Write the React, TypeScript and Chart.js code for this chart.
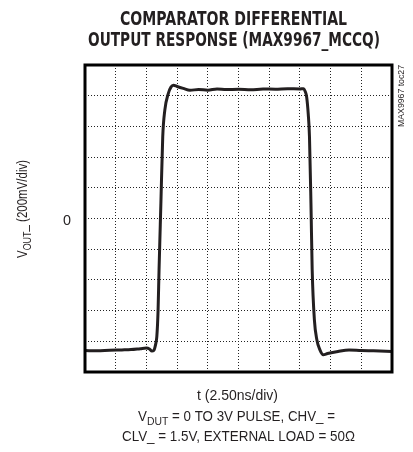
import React, { useEffect, useRef } from "react";
import { Chart, registerables } from "chart.js";

Chart.register(...registerables);

// time in ns (2.50 ns/div), output in mV (200 mV/div)
const timeNs = [0, 1.0, 2.0, 3.0, 3.75, 4.5, 5.0, 5.25, 5.45, 5.6, 5.75, 5.85, 5.95, 6.03, 6.18, 6.33, 6.5, 6.78, 7.0, 7.2, 7.5, 8.0, 8.55, 9.25, 10.0, 10.75, 11.5, 12.5, 13.5, 14.5, 15.5, 16.5, 17.5, 17.78, 17.95, 18.05, 18.18, 18.28, 18.4, 18.5, 18.68, 18.88, 19.13, 19.4, 19.75, 20.6, 21.5, 22.5, 23.5, 25.0];
const voutMv = [-860, -862, -858, -856, -854, -848, -844, -850, -864, -860, -820, -768, -600, -334, 100, 532, 706, 814, 856, 868, 860, 848, 836, 840, 836, 844, 840, 842, 838, 844, 842, 846, 844, 846, 824, 792, 680, 532, 100, -334, -660, -790, -856, -888, -880, -866, -856, -860, -862, -866];

const xMin = 0, xMax = 25, xStep = 2.5;
const yMin = -1000, yMax = 1000, yStep = 200;

const titleLines = ["COMPARATOR DIFFERENTIAL", "OUTPUT RESPONSE (MAX9967_MCCQ)"];
const xLabel = "t (2.50ns/div)";
const yLabelMain = "V";
const yLabelSub = "OUT";
const yLabelRest = "_ (200mV/div)";
const zeroLabel = "0";
const tocLabel = "MAX9967 toc27";
const noteLine1 = [{ t: "V" }, { t: "DUT", sub: true }, { t: " = 0 TO 3V PULSE, CHV_ =" }];
const noteLine2 = [{ t: "CLV_ = 1.5V, EXTERNAL LOAD = 50Ω" }];

const INK = "#231f20";
const FAMILY = "'Liberation Sans', Arial, sans-serif";
const TITLE_FAMILY = "'DejaVu Sans', 'Liberation Sans', sans-serif";

type Seg = { t: string; sub?: boolean };

function drawSegs(
  ctx: CanvasRenderingContext2D,
  segs: Seg[],
  cx: number,
  baseline: number,
  size: number,
  weight: string,
  targetWidth: number,
  rotate = false,
  family = FAMILY
) {
  const subSize = size * 0.78;
  let w = 0;
  const widths: number[] = [];
  for (const s of segs) {
    ctx.font = `${weight} ${s.sub ? subSize : size}px ${family}`;
    const m = ctx.measureText(s.t).width;
    widths.push(m);
    w += m;
  }
  const sx = targetWidth / w;
  ctx.save();
  ctx.translate(cx, baseline);
  if (rotate) ctx.rotate(-Math.PI / 2);
  ctx.scale(sx, 1);
  ctx.fillStyle = INK;
  ctx.textBaseline = "alphabetic";
  ctx.textAlign = "left";
  let x = -w / 2;
  segs.forEach((s, i) => {
    ctx.font = `${weight} ${s.sub ? subSize : size}px ${family}`;
    ctx.fillText(s.t, x, s.sub ? size * 0.28 : 0);
    x += widths[i];
  });
  ctx.restore();
}

const annotations = {
  id: "annotations",
  afterDraw(chart: any) {
    const ctx: CanvasRenderingContext2D = chart.ctx;
    const a = chart.chartArea;
    // frame
    ctx.save();
    ctx.strokeStyle = "#000";
    ctx.lineWidth = 3;
    ctx.strokeRect(a.left, a.top, a.right - a.left, a.bottom - a.top);
    ctx.restore();

    // title
    drawSegs(ctx, [{ t: titleLines[0] }], 233.5, 25, 20, "bold", 227, false, TITLE_FAMILY);
    drawSegs(ctx, [{ t: titleLines[1] }], 234, 46, 20, "bold", 292, false, TITLE_FAMILY);

    // y label (rotated)
    ctx.save();
    ctx.translate(27, 209);
    drawSegs(
      ctx,
      [{ t: yLabelMain }, { t: yLabelSub, sub: true }, { t: yLabelRest }],
      0,
      0,
      14,
      "normal",
      98,
      true
    );
    ctx.restore();

    // zero label
    const yScale = chart.scales.y;
    drawSegs(ctx, [{ t: zeroLabel }], 67, yScale.getPixelForValue(0) + 6, 15, "normal", 8);

    // toc label
    ctx.save();
    ctx.translate(404, 96);
    drawSegs(ctx, [{ t: tocLabel }], 0, 0, 9, "normal", 62, true);
    ctx.restore();

    // x label and notes
    drawSegs(ctx, [{ t: xLabel }], 237.5, 399.5, 14, "normal", 81);
    drawSegs(ctx, noteLine1, 236.5, 421, 15, "normal", 197);
    drawSegs(ctx, noteLine2, 238.5, 441, 15, "normal", 233);
  },
};

export default function App() {
  const ref = useRef<HTMLCanvasElement | null>(null);
  useEffect(() => {
    if (!ref.current) return;
    const chart = new Chart(ref.current, {
      type: "line",
      data: {
        datasets: [
          {
            data: timeNs.map((t, i) => ({ x: t, y: voutMv[i] })),
            borderColor: INK,
            borderWidth: 3,
            pointRadius: 0,
            cubicInterpolationMode: "monotone",
            fill: false,
          },
        ],
      },
      options: {
        responsive: false,
        animation: false,
        devicePixelRatio: 1,
        layout: { padding: { left: 85, right: 21, top: 65, bottom: 80 } },
        plugins: { legend: { display: false }, tooltip: { enabled: false }, title: { display: false } },
        scales: {
          x: {
            type: "linear",
            min: xMin,
            max: xMax,
            ticks: { display: false, stepSize: xStep },
            grid: { color: "#222", lineWidth: 1, drawTicks: false },
            border: { display: false, dash: [1, 2] },
          },
          y: {
            type: "linear",
            min: yMin,
            max: yMax,
            ticks: { display: false, stepSize: yStep },
            grid: { color: "#222", lineWidth: 1, drawTicks: false },
            border: { display: false, dash: [1, 2] },
          },
        },
      },
      plugins: [annotations],
    });
    return () => chart.destroy();
  }, []);
  return (
    <div style={{ position: "absolute", left: 0, top: 0, width: 413, height: 452, background: "#fff" }}>
      <canvas ref={ref} width={413} height={452} />
    </div>
  );
}
